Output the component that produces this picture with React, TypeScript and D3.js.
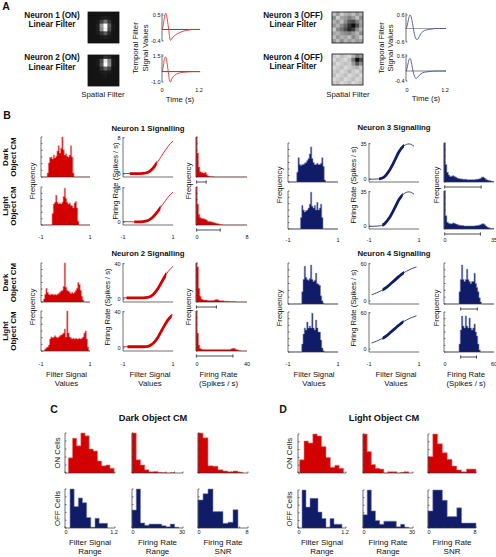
import React from 'react';
import * as d3 from 'd3';

const W = 496, H = 557;
const RED = '#d20000';
const RED_EDGE = '#ee7a7a';
const NAVY = '#101c68';
const NAVY_EDGE = '#7b84b6';
const RED_LINE = '#e03838';
const NAVY_LINE = '#4a5694';
const FONT = "'Liberation Sans', Arial, Helvetica, sans-serif";

// ---------- Panel A data ----------
const TF_TIME = [0, 0.03, 0.06, 0.09, 0.12, 0.15, 0.18, 0.21, 0.24, 0.27, 0.3, 0.35, 0.4, 0.45, 0.5, 0.6, 0.7, 0.8, 0.9, 1.0, 1.1, 1.2];
const TF_N1 = [0, 0.1, 0.3, 0.5, 0.56, 0.45, 0.25, 0.0, -0.25, -0.38, -0.33, -0.26, -0.21, -0.17, -0.14, -0.09, -0.05, -0.03, -0.01, 0, 0, 0];
const TF_N2 = [0, 0.3, 0.9, 1.35, 1.4, 1.0, 0.4, -0.3, -0.9, -1.0, -0.75, -0.5, -0.35, -0.25, -0.18, -0.1, -0.06, -0.03, -0.01, 0, 0, 0];
const TF_N3 = [0, 0.1, 0.3, 0.5, 0.6, 0.55, 0.35, 0.1, -0.15, -0.35, -0.47, -0.48, -0.35, -0.22, -0.14, -0.07, -0.04, -0.02, 0, 0, 0, 0];
const TF_N4 = [0, 0.1, 0.3, 0.45, 0.5, 0.42, 0.2, 0.0, -0.15, -0.26, -0.3, -0.25, -0.17, -0.11, -0.07, -0.04, -0.02, -0.01, 0, 0, 0, 0];
const TF_TICKS = [['0.5', '-0.4'], ['1.5', '-1.0'], ['0.6', '-0.6'], ['0.6', '-0.4']];
const TIME_TICKS = ['0', '1.2'];

const SP_N1 = [
  [0.08, 0.08, 0.08, 0.08, 0.08, 0.08, 0.08, 0.08],
  [0.08, 0.08, 0.08, 0.1, 0.12, 0.1, 0.08, 0.08],
  [0.08, 0.08, 0.1, 0.25, 0.45, 0.2, 0.08, 0.08],
  [0.08, 0.08, 0.12, 0.6, 1.0, 0.35, 0.1, 0.08],
  [0.08, 0.08, 0.12, 0.55, 0.95, 0.3, 0.1, 0.08],
  [0.08, 0.08, 0.1, 0.2, 0.35, 0.15, 0.08, 0.08],
  [0.08, 0.08, 0.08, 0.1, 0.12, 0.1, 0.08, 0.08],
  [0.08, 0.08, 0.08, 0.08, 0.08, 0.08, 0.08, 0.08],
];
const SP_N2 = [
  [0.08, 0.08, 0.08, 0.1, 0.2, 0.15, 0.08, 0.08],
  [0.08, 0.08, 0.1, 0.3, 0.9, 0.5, 0.1, 0.08],
  [0.08, 0.08, 0.1, 0.35, 1.0, 0.55, 0.1, 0.08],
  [0.08, 0.08, 0.08, 0.2, 0.4, 0.25, 0.08, 0.08],
  [0.08, 0.08, 0.08, 0.1, 0.12, 0.1, 0.08, 0.08],
  [0.08, 0.08, 0.08, 0.08, 0.1, 0.08, 0.08, 0.08],
  [0.08, 0.08, 0.08, 0.08, 0.08, 0.08, 0.08, 0.08],
  [0.08, 0.08, 0.08, 0.08, 0.08, 0.08, 0.08, 0.08],
];
const SP_N3 = [
  [0.75, 0.6, 0.8, 0.7, 0.65, 0.75, 0.6, 0.7],
  [0.55, 0.8, 0.65, 0.6, 0.5, 0.6, 0.75, 0.55],
  [0.7, 0.6, 0.75, 0.55, 0.35, 0.3, 0.5, 0.65],
  [0.6, 0.7, 0.55, 0.4, 0.2, 0.05, 0.3, 0.6],
  [0.8, 0.55, 0.45, 0.3, 0.15, 0.25, 0.55, 0.7],
  [0.65, 0.7, 0.6, 0.55, 0.5, 0.6, 0.7, 0.55],
  [0.75, 0.6, 0.7, 0.65, 0.75, 0.55, 0.65, 0.8],
  [0.6, 0.75, 0.55, 0.7, 0.6, 0.7, 0.6, 0.65],
];
const SP_N4 = [
  [0.8, 0.85, 0.75, 0.8, 0.85, 0.7, 0.5, 0.6],
  [0.85, 0.75, 0.8, 0.85, 0.75, 0.45, 0.05, 0.3],
  [0.75, 0.85, 0.8, 0.75, 0.8, 0.6, 0.35, 0.55],
  [0.85, 0.8, 0.75, 0.85, 0.8, 0.75, 0.7, 0.8],
  [0.8, 0.75, 0.85, 0.8, 0.7, 0.8, 0.85, 0.75],
  [0.75, 0.85, 0.8, 0.75, 0.85, 0.8, 0.75, 0.85],
  [0.85, 0.8, 0.75, 0.85, 0.8, 0.75, 0.85, 0.8],
  [0.8, 0.75, 0.85, 0.8, 0.75, 0.85, 0.8, 0.75],
];

// ---------- Panel B data ----------
// filter-signal histograms: 40 bins of 0.05 over [-1, 1]
const N1D_F = [0, 0, 0, 0, 0, 0.1, 0.35, 0.48, 0.5, 0.45, 0.55, 0.48, 0.52, 0.65, 0.78, 0.6, 0.72, 1.0, 0.68, 0.55, 0.58, 0.52, 0.5, 0.55, 0.78, 0.5, 0.1, 0, 0, 0, 0, 0, 0, 0, 0, 0, 0, 0, 0, 0];
const N1L_F = [0, 0, 0, 0, 0, 0, 0, 0, 0, 0.3, 0.55, 0.6, 0.78, 0.6, 0.55, 0.58, 0.55, 0.6, 0.75, 0.97, 0.7, 0.6, 0.55, 0.58, 0.52, 0.5, 0.45, 0.58, 0.62, 0.45, 0.1, 0, 0, 0, 0, 0, 0, 0, 0, 0];
const N2D_F = [0, 0, 0.08, 0.2, 0.35, 0.25, 0.2, 0.18, 0.2, 0.2, 0.18, 0.2, 0.18, 0.2, 0.22, 0.25, 0.28, 0.3, 0.4, 1.0, 0.38, 0.3, 0.28, 0.25, 0.22, 0.25, 0.22, 0.25, 0.3, 0.35, 0.5, 0.45, 0.3, 0.15, 0.05, 0, 0, 0, 0, 0];
const N2L_F = [0, 0, 0, 0.05, 0.08, 0.1, 0.15, 0.3, 0.35, 0.33, 0.35, 0.38, 0.35, 0.33, 0.35, 0.38, 0.4, 0.42, 0.45, 0.55, 0.35, 1.0, 0.45, 0.35, 0.33, 0.3, 0.32, 0.3, 0.32, 0.3, 0.3, 0.32, 0.3, 0.32, 0.35, 0.45, 0.5, 0.3, 0.1, 0];
const N3D_F = [0, 0, 0, 0, 0, 0, 0, 0.25, 0.62, 0.45, 0.42, 0.45, 0.45, 0.48, 0.5, 0.55, 0.6, 0.72, 0.9, 0.6, 0.5, 0.45, 0.45, 0.48, 0.45, 0.45, 0.48, 0.62, 0.4, 0.05, 0, 0, 0, 0, 0, 0, 0, 0, 0, 0];
const N3L_F = [0, 0, 0, 0, 0, 0, 0, 0, 0, 0, 0.3, 0.62, 0.5, 0.45, 0.48, 0.5, 0.55, 0.65, 0.97, 0.6, 0.55, 0.62, 0.5, 0.7, 0.5, 0.55, 0.65, 0.3, 0, 0, 0, 0, 0, 0, 0, 0, 0, 0, 0, 0];
const N4D_F = [0, 0, 0, 0, 0, 0, 0, 0, 0, 0, 0, 0.3, 0.6, 0.92, 0.65, 0.6, 0.58, 0.62, 0.95, 0.6, 0.55, 0.58, 0.75, 0.5, 0.48, 0.45, 0.2, 0.08, 0.02, 0, 0, 0, 0, 0, 0, 0, 0, 0, 0, 0];
const N4L_F = [0, 0, 0, 0, 0, 0, 0, 0, 0, 0, 0, 0.2, 0.45, 0.6, 0.55, 0.75, 0.6, 0.65, 0.6, 0.97, 0.6, 0.55, 0.8, 0.6, 0.5, 0.5, 0.3, 0.1, 0.03, 0, 0, 0, 0, 0, 0, 0, 0, 0, 0, 0];

// firing-rate histograms
const N1D_R = [1.0, 0.6, 0.25, 0.13, 0.12, 0.1, 0.1, 0.12, 0.06, 0.03, 0.02, 0.01, 0.01, 0.01, 0, 0, 0, 0, 0, 0, 0, 0, 0, 0, 0, 0, 0, 0, 0, 0, 0, 0, 0, 0, 0, 0, 0, 0, 0, 0];
const N1L_R = [1.0, 0.55, 0.28, 0.2, 0.17, 0.17, 0.16, 0.15, 0.13, 0.1, 0.09, 0.09, 0.08, 0.07, 0.06, 0.05, 0.04, 0.03, 0.02, 0.01, 0.01, 0, 0, 0, 0, 0, 0, 0, 0, 0, 0, 0, 0, 0, 0, 0, 0, 0, 0, 0];
const N2D_R = [1.0, 0.9, 0.35, 0.15, 0.08, 0.06, 0.05, 0.05, 0.05, 0.04, 0.04, 0.04, 0.04, 0.04, 0.05, 0.06, 0.07, 0.05, 0.04, 0.03, 0.03, 0.03, 0.02, 0.02, 0.02, 0.02, 0.01, 0.01, 0.01, 0.01, 0.01, 0, 0, 0, 0, 0, 0, 0, 0, 0];
const N2L_R = [1.0, 0.45, 0.15, 0.06, 0.05, 0.04, 0.04, 0.04, 0.04, 0.04, 0.04, 0.04, 0.04, 0.04, 0.04, 0.04, 0.04, 0.04, 0.04, 0.04, 0.04, 0.04, 0.04, 0.04, 0.04, 0.04, 0.04, 0.05, 0.06, 0.07, 0.06, 0.04, 0.03, 0.02, 0.01, 0, 0, 0, 0, 0];
const N3D_R = [1.0, 0.45, 0.25, 0.18, 0.14, 0.15, 0.16, 0.14, 0.12, 0.1, 0.09, 0.08, 0.08, 0.07, 0.07, 0.07, 0.06, 0.06, 0.06, 0.06, 0.06, 0.06, 0.07, 0.07, 0.08, 0.09, 0.12, 0.13, 0.1, 0.07, 0.05, 0.04, 0.03, 0.02, 0.01];
const N3L_R = [1.0, 0.35, 0.18, 0.15, 0.14, 0.14, 0.16, 0.15, 0.13, 0.12, 0.1, 0.1, 0.09, 0.09, 0.08, 0.08, 0.08, 0.08, 0.08, 0.08, 0.08, 0.08, 0.09, 0.09, 0.1, 0.11, 0.13, 0.14, 0.12, 0.08, 0.05, 0.03, 0.02, 0.01, 0.01];
const N4D_R = [0, 0, 0, 0, 0, 0, 0, 0, 0, 0, 0, 0, 0.3, 0.6, 0.95, 0.6, 0.55, 0.6, 0.85, 0.6, 0.55, 0.5, 0.55, 0.55, 0.75, 0.5, 0.4, 0.3, 0.15, 0.05, 0, 0, 0, 0, 0, 0, 0, 0, 0, 0];
const N4L_R = [0, 0, 0, 0, 0, 0, 0, 0, 0, 0, 0, 0, 0.2, 0.55, 0.9, 0.65, 0.6, 0.9, 0.65, 0.6, 0.85, 0.6, 0.55, 0.6, 0.7, 0.5, 0.4, 0.2, 0.05, 0, 0, 0, 0, 0, 0, 0, 0, 0, 0, 0];

// error bars under firing-rate histograms [lo, hi]
const N1_ERR = [[0.1, 1.6], [0.1, 3.8]];
const N2_ERR = [[0.3, 16], [0.3, 29]];
const N3_ERR = [[0.5, 26], [0.5, 25.5]];
const N4_ERR = [[20, 40], [20, 39]];

// nonlinearities (firing rate vs filter signal)
const NL_X = [-1, -0.8, -0.6, -0.4, -0.2, 0, 0.2, 0.4, 0.6, 0.8, 1];
const NL3_X = [-1, -0.8, -0.6, -0.4, -0.2, 0, 0.2, 0.4, 0.6, 0.8];
const NL4_X = [-0.9, -0.7, -0.5, -0.3, -0.1, 0.1, 0.3, 0.5, 0.7, 0.9];
const N1D_NL = [0.15, 0.12, 0.1, 0.1, 0.15, 0.4, 1.3, 2.8, 4.5, 6.1, 7.3];
const N1L_NL = [0.15, 0.12, 0.1, 0.1, 0.15, 0.4, 1.2, 2.6, 4.2, 5.8, 7.0];
const N2D_NL = [1.5, 1.5, 1.5, 1.5, 1.5, 2, 5, 12, 22, 31, 37];
const N2L_NL = [1.5, 1.5, 1.5, 1.5, 1.5, 2, 5, 12, 22, 31, 37];
const N3D_NL = [0, 0, 0.3, 2, 8, 17, 27, 33, 34.8, 32.5];
const N3L_NL = [0, 0, 0.3, 2, 8, 17, 27, 33, 34.8, 32.5];
const N4D_NL = [10, 13, 17, 22, 29, 36, 43, 48, 52, 55];
const N4L_NL = [10, 13, 17, 22, 29, 36, 43, 48, 52, 55];
const N1_THICK = [[-0.73, 0.35], [-0.55, 0.5]];
const N2_THICK = [[-0.86, 0.73], [-0.82, 0.95]];
const N3_THICK = [[-0.6, 0.4], [-0.47, 0.35]];
const N4_THICK = [[-0.46, 0.4], [-0.46, 0.38]];

// ---------- Panels C & D data ----------
const C_ON_FILT = [0.38, 0.87, 0.68, 1.0, 0.93, 0.6, 0.55, 0.3, 0.18, 0.2, 0.12];
const C_OFF_FILT = [1.0, 0.55, 0.77, 0.65, 0.27, 0.02, 0.25, 0.12, 0.12];
const C_ON_RATE = [1.0, 0.33, 0.2, 0.08, 0.03, 0.04, 0.02, 0.01, 0, 0.01];
const C_OFF_RATE = [0.46, 1.0, 0.13, 0.07, 0.1, 0.1, 0.1, 0.06, 0.03, 0.1, 0.02];
const C_ON_SNR = [1.0, 0.88, 0.18, 0.17, 0.08, 0.05, 0.03, 0.05, 0.02];
const C_OFF_SNR = [0.72, 0.88, 1.0, 0.42, 0.42, 0.12, 0.15, 0.47];
const D_ON_FILT = [0.34, 0.82, 0.77, 1.0, 0.95, 0.68, 0.4, 0.15, 0.2, 0.12];
const D_OFF_FILT = [1.0, 0.55, 0.78, 0.78, 0.42, 0.25, 0.02, 0.25, 0.1, 0.1];
const D_ON_RATE = [1.0, 0.55, 0.22, 0.12, 0.1, 0, 0.03, 0.03, 0, 0.02, 0.03];
const D_OFF_RATE = [0.35, 1.0, 0.45, 0.2, 0.1, 0.18, 0.18, 0.18, 0.03, 0.1, 0.02];
const D_ON_SNR = [0.42, 1.0, 0.75, 0.52, 0.35, 0.18, 0.08, 0.03, 0.1, 0.1];
const D_OFF_SNR = [0.45, 1.0, 1.0, 0.73, 0.3, 0.3, 0.53, 0.13, 0.13, 0.13];

// ---------- drawing helpers ----------
function Txt({ x, y, s, size = 8, bold = false, anchor = 'middle', rot = false }: any) {
  const off = size * 0.35;
  const common = { textAnchor: anchor, fontSize: size, fontWeight: bold ? 'bold' : 'normal', fontFamily: FONT, fill: '#111' };
  if (rot) return <text transform={`translate(${x + off},${y}) rotate(-90)`} {...common}>{s}</text>;
  return <text x={x} y={y + off} {...common}>{s}</text>;
}

function Frame({ x, y, w, h, xt = 0, yt = 0 }: any) {
  return (
    <g stroke="#333" strokeWidth={0.7} fill="none">
      <line x1={x} y1={y} x2={x} y2={y + h} />
      <line x1={x} y1={y + h} x2={x + w} y2={y + h} />
      {yt > 0 && d3.range(yt + 1).map(i => {
        const yy = y + h - (i * h) / yt;
        return <line key={'y' + i} x1={x} x2={x + 1.5} y1={yy} y2={yy} />;
      })}
      {xt > 0 && d3.range(xt + 1).map(i => {
        const xx = x + (i * w) / xt;
        return <line key={'x' + i} x1={xx} x2={xx} y1={y + h} y2={y + h - 1.5} />;
      })}
    </g>
  );
}

function Hist({ x, y, w, h, bins, start, step, domain, fill, edge, xt = 0, yt = 6 }: any) {
  const xs = d3.scaleLinear().domain(domain).range([x, x + w]);
  const ys = d3.scaleLinear().domain([0, 1]).range([y + h, y]);
  const pts: [number, number][] = [[start, 0], ...bins.map((v: number, i: number) => [start + i * step, v] as [number, number]), [start + bins.length * step, 0]];
  const area = d3.area<[number, number]>().x(d => xs(d[0])).y0(ys(0)).y1(d => ys(d[1])).curve(d3.curveStepAfter);
  const line = d3.line<[number, number]>().x(d => xs(d[0])).y(d => ys(d[1])).curve(d3.curveStepAfter);
  return (
    <g>
      <path d={area(pts) || ''} fill={fill} />
      <path d={line(pts) || ''} fill="none" stroke={edge} strokeWidth={0.6} />
      <Frame x={x} y={y} w={w} h={h} xt={xt} yt={yt} />
    </g>
  );
}

function ErrBar({ x, y, w, domain, range }: any) {
  const xs = d3.scaleLinear().domain(domain).range([x, x + w]);
  const a = xs(range[0]), b = xs(range[1]);
  return (
    <g stroke="#222" strokeWidth={0.8}>
      <line x1={a} x2={b} y1={y} y2={y} />
      <line x1={a} x2={a} y1={y - 1.6} y2={y + 1.6} />
      <line x1={b} x2={b} y1={y - 1.6} y2={y + 1.6} />
    </g>
  );
}

function NL({ x, y, w, h, xd, rates, max, thick, color, id }: any) {
  const xs = d3.scaleLinear().domain([-1, 1]).range([x, x + w]);
  const ys = d3.scaleLinear().domain([-0.08 * max, 1.02 * max]).range([y + h, y]);
  const line = d3.line<number>().x((d, i) => xs(xd[i])).y(d => ys(d)).curve(d3.curveMonotoneX);
  const p = line(rates) || '';
  return (
    <g>
      <clipPath id={id}>
        <rect x={xs(thick[0])} y={y - 5} width={xs(thick[1]) - xs(thick[0])} height={h + 10} />
      </clipPath>
      <path d={p} fill="none" stroke={color} strokeWidth={0.8} />
      <path d={p} fill="none" stroke={color} strokeWidth={2.8} clipPath={`url(#${id})`} />
      <Frame x={x} y={y} w={w} h={h} />
      <g stroke="#333" strokeWidth={0.7}>
        <line x1={x} x2={x + 1.5} y1={ys(0)} y2={ys(0)} />
        <line x1={x} x2={x + 1.5} y1={ys(max)} y2={ys(max)} />
      </g>
      <Txt x={x - 2.5} y={ys(max)} s={String(max)} size={5.5} anchor="end" />
      <Txt x={x - 2.5} y={ys(0)} s="0" size={5.5} anchor="end" />
    </g>
  );
}

function Spatial({ x, y, size, grid, id }: any) {
  const n = grid.length;
  const bx = d3.scaleBand<number>().domain(d3.range(n)).range([x, x + size]);
  const by = d3.scaleBand<number>().domain(d3.range(n)).range([y, y + size]);
  const gray = d3.scaleLinear<string>().domain([0, 1]).range(['#000000', '#ffffff']);
  const mean = d3.mean(grid.flat() as number[]) || 0;
  return (
    <g>
      <clipPath id={id + 'c'}><rect x={x} y={y} width={size} height={size} /></clipPath>
      <g clipPath={`url(#${id}c)`}>
        <rect x={x} y={y} width={size} height={size} fill={gray(mean)} />
        {grid.map((row: number[], r: number) => row.map((v, c) => (
          <rect key={r + '-' + c} x={bx(c)} y={by(r)} width={bx.bandwidth() + 0.8} height={by.bandwidth() + 0.8} fill={gray(v)} />
        )))}
      </g>
      <rect x={x} y={y} width={size} height={size} fill="none" stroke="#111" strokeWidth={0.8} />
    </g>
  );
}

function Temporal({ x, y, w, h, vals, dom, ticks, color, zero }: any) {
  const xs = d3.scaleLinear().domain([0, 1.2]).range([x, x + w]);
  const ys = d3.scaleLinear().domain(dom).range([y + h, y]);
  const line = d3.line<number>().x((d, i) => xs(TF_TIME[i])).y(d => ys(d)).curve(d3.curveMonotoneX);
  return (
    <g>
      <line x1={x} x2={x + w} y1={ys(0)} y2={ys(0)} stroke={zero} strokeWidth={0.8} />
      <path d={line(vals) || ''} fill="none" stroke={color} strokeWidth={0.9} />
      <g stroke="#333" strokeWidth={0.7}>
        <line x1={x} x2={x} y1={ys(dom[1]) - 2} y2={ys(dom[0])} />
        <line x1={x} x2={x + 1.5} y1={ys(dom[1])} y2={ys(dom[1])} />
        <line x1={x} x2={x + 1.5} y1={ys(dom[0])} y2={ys(dom[0])} />
      </g>
      <Txt x={x - 1.5} y={ys(dom[1])} s={ticks[0]} size={5.5} anchor="end" />
      <Txt x={x - 1.5} y={ys(dom[0])} s={ticks[1]} size={5.5} anchor="end" />
    </g>
  );
}

// ---------- Panel B layout configs ----------
const LEFT_COLS = { f: [41, 49], n: [123, 50], r: [196, 51] };
const RIGHT_COLS = { f: [288, 50], n: [369, 50], r: [444, 50] };

const BLOCKS = [
  { key: 'n1', title: 'Neuron 1 Signalling', tx: 148, ty: 128, cols: LEFT_COLS, rows: [[137, 40], [187, 38]], filt: [N1D_F, N1L_F], nlx: NL_X, nl: [N1D_NL, N1L_NL], max: 8, thick: N1_THICK, rate: [N1D_R, N1L_R], rstep: 0.2, rmax: 8, err: N1_ERR, on: true, tickY: 237, labY: 181, nlLabX: 115, freqL: 32, freqR: 188, xl: false, rowLab: true },
  { key: 'n2', title: 'Neuron 2 Signalling', tx: 148, ty: 253, cols: LEFT_COLS, rows: [[263, 39], [311, 40]], filt: [N2D_F, N2L_F], nlx: NL_X, nl: [N2D_NL, N2L_NL], max: 40, thick: N2_THICK, rate: [N2D_R, N2L_R], rstep: 1, rmax: 40, err: N2_ERR, on: true, tickY: 364, labY: 307, nlLabX: 107, freqL: 32, freqR: 188, xl: true, rowLab: true },
  { key: 'n3', title: 'Neuron 3 Signalling', tx: 394, ty: 127, cols: RIGHT_COLS, rows: [[143, 39], [191, 38]], filt: [N3D_F, N3L_F], nlx: NL3_X, nl: [N3D_NL, N3L_NL], max: 35, thick: N3_THICK, rate: [N3D_R, N3L_R], rstep: 1, rmax: 35, err: N3_ERR, on: false, tickY: 240, labY: 185, nlLabX: 353, freqL: 279, freqR: 436, xl: false, rowLab: false },
  { key: 'n4', title: 'Neuron 4 Signalling', tx: 394, ty: 253, cols: RIGHT_COLS, rows: [[263, 41], [312, 40]], filt: [N4D_F, N4L_F], nlx: NL4_X, nl: [N4D_NL, N4L_NL], max: 60, thick: N4_THICK, rate: [N4D_R, N4L_R], rstep: 1.5, rmax: 60, err: N4_ERR, on: false, tickY: 364, labY: 308, nlLabX: 353, freqL: 279, freqR: 436, xl: true, rowLab: false },
];

function BBlock({ b }: any) {
  const fill = b.on ? RED : NAVY;
  const edge = b.on ? RED_EDGE : NAVY_EDGE;
  const [fx, fw] = b.cols.f, [nx, nw] = b.cols.n, [rx, rw] = b.cols.r;
  const xl = (v: number, x: number, w: number, dom: number[]) => d3.scaleLinear().domain(dom).range([x, x + w])(v);
  return (
    <g>
      <Txt x={b.tx} y={b.ty} s={b.title} size={7.8} bold />
      {b.rows.map((r: number[], k: number) => (
        <g key={k}>
          <Hist x={fx} y={r[0]} w={fw} h={r[1]} bins={b.filt[k]} start={-1} step={0.05} domain={[-1, 1]} fill={fill} edge={edge} />
          <NL x={nx} y={r[0]} w={nw} h={r[1]} xd={b.nlx} rates={b.nl[k]} max={b.max} thick={b.thick[k]} color={fill} id={b.key + 'c' + k} />
          <Hist x={rx} y={r[0]} w={rw} h={r[1]} bins={b.rate[k]} start={0} step={b.rstep} domain={[0, b.rmax]} fill={fill} edge={edge} />
          <ErrBar x={rx} y={r[0] + r[1] + 5} w={rw} domain={[0, b.rmax]} range={b.err[k]} />
        </g>
      ))}
      <Txt x={xl(-1, fx, fw, [-1, 1])} y={b.tickY} s="-1" size={5.5} />
      <Txt x={xl(1, fx, fw, [-1, 1])} y={b.tickY} s="1" size={5.5} />
      <Txt x={xl(-1, nx, nw, [-1, 1])} y={b.tickY} s="-1" size={5.5} />
      <Txt x={xl(1, nx, nw, [-1, 1])} y={b.tickY} s="1" size={5.5} />
      <Txt x={rx + 1} y={b.tickY} s="0" size={5.5} />
      <Txt x={rx + rw} y={b.tickY} s={String(b.rmax)} size={5.5} />
      <Txt x={b.freqL} y={b.labY} s="Frequency" size={7.8} rot />
      <Txt x={b.nlLabX} y={b.labY} s="Firing Rate (Spikes / s)" size={7.6} rot />
      <Txt x={b.freqR} y={b.labY} s="Frequency" size={7.8} rot />
      {b.xl && (
        <g>
          <Txt x={fx + fw / 2 + 1} y={b.tickY + 10} s="Filter Signal" size={7.8} />
          <Txt x={fx + fw / 2 + 1} y={b.tickY + 19.5} s="Values" size={7.8} />
          <Txt x={nx + nw / 2 + 2} y={b.tickY + 10} s="Filter Signal" size={7.8} />
          <Txt x={nx + nw / 2 + 2} y={b.tickY + 19.5} s="Values" size={7.8} />
          <Txt x={rx + rw / 2 - 3} y={b.tickY + 10} s="Firing Rate" size={7.8} />
          <Txt x={rx + rw / 2 - 3} y={b.tickY + 19.5} s="(Spikes / s)" size={7.8} />
        </g>
      )}
      {b.rowLab && b.rows.map((r: number[], k: number) => (
        <g key={'rl' + k}>
          <Txt x={5} y={r[0] + r[1] / 2} s={k === 0 ? 'Dark' : 'Light'} size={8} bold rot />
          <Txt x={13.5} y={r[0] + r[1] / 2} s="Object CM" size={8} bold rot />
        </g>
      ))}
    </g>
  );
}

// ---------- Panels C & D ----------
const CD_COLS_C = [[65, 50], [132, 51], [198, 50]];
const CD_COLS_D = [[298, 48], [363, 50], [428, 48]];
const CD_DOMAINS = [[0, 1.2], [0, 30], [0, 8]];
const CD_TICKLABELS = [['0', '1.2'], ['0', '30'], ['0', '8']];
const CD_XLABELS = [['Filter Signal', 'Range'], ['Firing Rate', 'Range'], ['Firing Rate', 'SNR']];

const PANELS_CD = [
  { key: 'C', letter: 'C', lx: 54, title: 'Dark Object CM', tx: 153, cols: CD_COLS_C, rows: [[433, 40], [489, 39]], rowLabX: 57,
    on: [C_ON_FILT, C_ON_RATE, C_ON_SNR], off: [C_OFF_FILT, C_OFF_RATE, C_OFF_SNR], onStart: [0.08, 0, 0], onStep: [0.1, 2.5, 0.8], offStart: [0.12, 0, 0], offStep: [0.1, 2.5, 0.8] },
  { key: 'D', letter: 'D', lx: 283, title: 'Light  Object CM', tx: 384, cols: CD_COLS_D, rows: [[434, 39], [490, 38]], rowLabX: 289,
    on: [D_ON_FILT, D_ON_RATE, D_ON_SNR], off: [D_OFF_FILT, D_OFF_RATE, D_OFF_SNR], onStart: [0.04, 0, 0], onStep: [0.11, 2.5, 0.8], offStart: [0.1, 0, 0], offStep: [0.1, 2.5, 0.8] },
];

function CDPanel({ p }: any) {
  return (
    <g>
      <Txt x={p.lx} y={409} s={p.letter} size={10.5} bold />
      <Txt x={p.tx} y={418} s={p.title} size={9.2} bold />
      <Txt x={p.rowLabX} y={p.rows[0][0] + p.rows[0][1] / 2} s="ON Cells" size={7.8} rot />
      <Txt x={p.rowLabX} y={p.rows[1][0] + p.rows[1][1] / 2} s="OFF Cells" size={7.8} rot />
      {p.cols.map((c: number[], j: number) => {
        const xs = d3.scaleLinear().domain(CD_DOMAINS[j]).range([c[0], c[0] + c[1]]);
        return (
          <g key={j}>
            <Hist x={c[0]} y={p.rows[0][0]} w={c[1]} h={p.rows[0][1]} bins={p.on[j]} start={p.onStart[j]} step={p.onStep[j]} domain={CD_DOMAINS[j]} fill={RED} edge={RED_EDGE} xt={6} yt={5} />
            <Hist x={c[0]} y={p.rows[1][0]} w={c[1]} h={p.rows[1][1]} bins={p.off[j]} start={p.offStart[j]} step={p.offStep[j]} domain={CD_DOMAINS[j]} fill={NAVY} edge={NAVY_EDGE} xt={6} yt={5} />
            <Txt x={xs(CD_DOMAINS[j][0]) + 1} y={532} s={CD_TICKLABELS[j][0]} size={5.5} />
            <Txt x={xs(CD_DOMAINS[j][1]) - 1} y={532} s={CD_TICKLABELS[j][1]} size={5.5} />
            <Txt x={c[0] + c[1] / 2} y={542} s={CD_XLABELS[j][0]} size={8} />
            <Txt x={c[0] + c[1] / 2} y={551.5} s={CD_XLABELS[j][1]} size={8} />
          </g>
        );
      })}
    </g>
  );
}

export default function App() {
  return (
    <svg width={W} height={H} viewBox={`0 0 ${W} ${H}`} style={{ position: 'absolute', left: 0, top: 0, background: '#fff' }}>
      <rect width={W} height={H} fill="#fff" />
      {/* Panel A */}
      <Txt x={6} y={6} s="A" size={10.5} bold />
      <Txt x={52} y={15} s="Neuron 1 (ON)" size={8.2} bold />
      <Txt x={52} y={24} s="Linear Filter" size={8.2} bold />
      <Txt x={52} y={57} s="Neuron 2 (ON)" size={8.2} bold />
      <Txt x={52} y={67} s="Linear Filter" size={8.2} bold />
      <Spatial x={88} y={12} size={31} grid={SP_N1} id="sp1" />
      <Spatial x={88} y={55} size={31} grid={SP_N2} id="sp2" />
      <Txt x={103} y={94} s="Spatial Filter" size={7.8} />
      <Temporal x={162} y={15} w={38} h={26} vals={TF_N1} dom={[-0.4, 0.5]} ticks={TF_TICKS[0]} color={RED_LINE} zero="#222" />
      <Temporal x={162} y={56} w={38} h={26} vals={TF_N2} dom={[-1.0, 1.5]} ticks={TF_TICKS[1]} color={RED_LINE} zero="#222" />
      <Txt x={162} y={90} s={TIME_TICKS[0]} size={5.5} />
      <Txt x={199} y={90} s={TIME_TICKS[1]} size={5.5} />
      <Txt x={180} y={99} s="Time (s)" size={7.8} />
      <Txt x={135} y={48} s="Temporal Filter" size={7.8} rot />
      <Txt x={145} y={48} s="Signal Values" size={7.8} rot />

      <Txt x={293} y={15} s="Neuron 3 (OFF)" size={8.2} bold />
      <Txt x={293} y={24} s="Linear Filter" size={8.2} bold />
      <Txt x={293} y={57} s="Neuron 4 (OFF)" size={8.2} bold />
      <Txt x={293} y={66} s="Linear Filter" size={8.2} bold />
      <Spatial x={332} y={12} size={31} grid={SP_N3} id="sp3" />
      <Spatial x={332} y={54} size={31} grid={SP_N4} id="sp4" />
      <Txt x={348} y={94} s="Spatial Filter" size={7.8} />
      <Temporal x={406} y={15} w={40} h={27} vals={TF_N3} dom={[-0.6, 0.6]} ticks={TF_TICKS[2]} color={NAVY_LINE} zero="#888" />
      <Temporal x={406} y={56} w={40} h={25} vals={TF_N4} dom={[-0.4, 0.6]} ticks={TF_TICKS[3]} color={NAVY_LINE} zero="#666" />
      <Txt x={407} y={90} s={TIME_TICKS[0]} size={5.5} />
      <Txt x={445} y={90} s={TIME_TICKS[1]} size={5.5} />
      <Txt x={426} y={98} s="Time (s)" size={7.8} />
      <Txt x={381} y={48} s="Temporal Filter" size={7.8} rot />
      <Txt x={390} y={48} s="Signal Values" size={7.8} rot />

      {/* Panel B */}
      <Txt x={7} y={115} s="B" size={10.5} bold />
      {BLOCKS.map(b => <BBlock key={b.key} b={b} />)}

      {/* Panels C & D */}
      {PANELS_CD.map(p => <CDPanel key={p.key} p={p} />)}
    </svg>
  );
}
